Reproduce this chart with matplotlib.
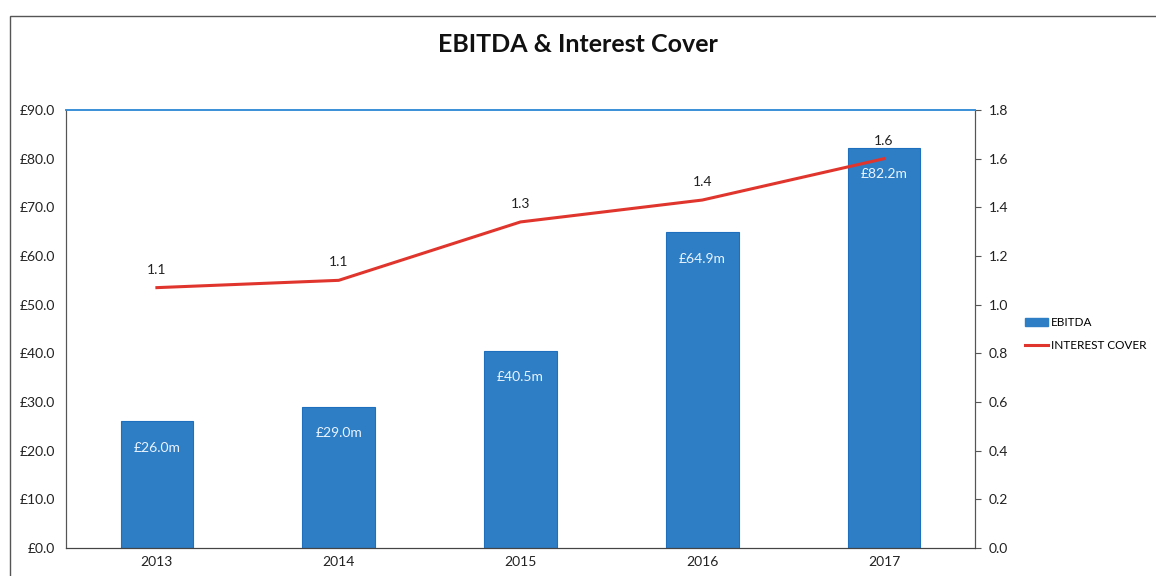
import numpy as np
import matplotlib.pyplot as plt
from matplotlib.patches import Rectangle
from matplotlib.lines import Line2D
from matplotlib.patches import Patch

plt.rcParams['font.family'] = ['Lato', 'DejaVu Sans']

years = ['2013', '2014', '2015', '2016', '2017']
ebitda = [26.0, 29.0, 40.5, 64.9, 82.2]
interest_cover = [1.07, 1.10, 1.34, 1.43, 1.60]

bar_col = '#2e7ec6'
line_col = '#e0352d'

fig = plt.figure(figsize=(11.56, 5.76), dpi=100)
ax = fig.add_axes([66 / 1156, 28 / 576, 909 / 1156, 438 / 576])
ax2 = ax.twinx()

# outer chart frame
fig.patches.append(Rectangle((10 / 1156, -0.1), 1.2, 1 - 16 / 576 + 0.1,
                             transform=fig.transFigure, fill=False,
                             edgecolor='#555555', linewidth=1.0))

x = np.arange(len(years))
bars = ax.bar(x, ebitda, width=0.4, color=bar_col, edgecolor='#1f6fbf',
              linewidth=0.8, zorder=2)
for xi, v in zip(x, ebitda):
    ax.annotate('£%.1fm' % v, (xi, v), xytext=(0, -19), textcoords='offset points',
                ha='center', va='center', color='#eaf4ff', fontsize=10)

ax2.plot(x, interest_cover, color=line_col, linewidth=2.2, zorder=3)
for xi, v in zip(x, interest_cover):
    ax2.annotate('%.1f' % v, (xi, v), xytext=(0, 13), textcoords='offset points',
                 ha='center', va='center', color='#222222', fontsize=10)

ax.set_xlim(-0.5, 4.5)
ax.set_ylim(0, 90)
ax.set_yticks(np.arange(0, 91, 10))
ax.set_yticklabels(['£%.1f' % v for v in np.arange(0, 91, 10)])
ax.set_xticks(x)
ax.set_xticklabels(years)
ax.tick_params(axis='both', length=0, labelsize=10, colors='#222222', pad=8)
ax.tick_params(axis='x', pad=6)

ax2.set_ylim(0, 1.8)
ax2.set_yticks(np.arange(0, 1.81, 0.2))
ax2.set_yticklabels(['%.1f' % v for v in np.arange(0, 1.81, 0.2)])
ax2.tick_params(axis='y', length=4, width=0.8, labelsize=10, pad=6,
                colors='#555555', labelcolor='#222222')

for a in (ax, ax2):
    a.spines['top'].set_color('#3a8fd6')
    a.spines['top'].set_linewidth(1.2)
    a.spines['left'].set_color('#555555')
    a.spines['right'].set_color('#555555')
    a.spines['bottom'].set_color('#444444')

fig.text(578 / 1156, 1 - 44 / 576, 'EBITDA & Interest Cover', ha='center',
         va='center', fontsize=18, fontweight='bold', color='#111111')

handles = [Patch(facecolor=bar_col, edgecolor=bar_col),
           Line2D([0], [0], color=line_col, linewidth=2.2)]
fig.legend(handles, ['EBITDA', 'INTEREST COVER'], loc='center left',
           bbox_to_anchor=(1014 / 1156, 1 - 334 / 576), frameon=False,
           fontsize=8.5, handlelength=2.0, handletextpad=0.2, labelspacing=1.0)

fig.savefig('out.png', dpi=100)
